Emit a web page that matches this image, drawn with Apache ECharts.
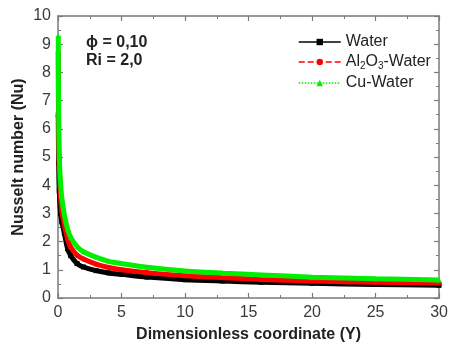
<!DOCTYPE html>
<html><head><meta charset="utf-8">
<script src="https://cdn.jsdelivr.net/npm/echarts@6/dist/echarts.min.js"></script>
<style>html,body{margin:0;padding:0;background:#fff}#c{width:451px;height:348px}</style>
</head><body><div id="c"></div>
<script>
const xs = [0.02, 0.05, 0.1, 0.2, 0.3, 0.5, 0.75, 1.0, 1.5, 2.0, 3.0, 4.0, 5.0, 7.0, 10, 13, 16, 20, 25, 30];
const water = [6.5, 4.8, 3.8, 3.0, 2.7, 2.3, 1.75, 1.5, 1.22, 1.1, 0.97, 0.89, 0.84, 0.74, 0.65, 0.6, 0.56, 0.52, 0.48, 0.45];
const al2o3 = [8.7, 5.8, 4.6, 3.6, 3.1, 2.6, 2.1, 1.8, 1.52, 1.38, 1.2, 1.08, 1.0, 0.9, 0.79, 0.72, 0.66, 0.6, 0.56, 0.53];
const cu = [9.3, 6.6, 5.0, 4.1, 3.55, 2.95, 2.45, 2.15, 1.82, 1.64, 1.45, 1.3, 1.22, 1.09, 0.96, 0.88, 0.82, 0.74, 0.68, 0.64];
const seriesNames = ['Water', 'Al2O3-Water', 'Cu-Water'];
const colors = ['#000000', '#ff0000', '#00ee00'];
const symbols = ['rect', 'circle', 'triangle'];
const lineTypes = ['solid', 'dashed', 'dotted'];
const values = [water, al2o3, cu];

const chart = echarts.init(document.getElementById('c'));
const font = 'Liberation Sans, Arial, sans-serif';
const axCol = '#7a7a7a';
function mkAxis(show, pos, min, max, interval, extra) {
  return Object.assign({
    type: 'value', position: pos, min: min, max: max, interval: interval,
    axisLine: {show: true, onZero: false, lineStyle: {color: axCol, width: 1.5}},
    axisTick: {show: true, inside: true, length: 5, lineStyle: {color: axCol, width: 1.2}},
    minorTick: {show: true, splitNumber: 2, length: 3, lineStyle: {color: axCol}},
    splitLine: {show: false},
    axisLabel: {show: show, color: '#3a3a3a', fontSize: 16, fontFamily: font, margin: 7},
  }, extra || {});
}
chart.setOption({
  animation: false,
  grid: {left: 58, right: 8, top: 16, bottom: 50},
  xAxis: [
    mkAxis(true, 'bottom', 0, 30, 5, {
      name: 'Dimensionless coordinate (Y)', nameLocation: 'middle', nameGap: 29, nameMoveOverlap: false,
      nameTextStyle: {fontSize: 16, fontWeight: 'bold', color: '#222', fontFamily: font}
    }),
    mkAxis(false, 'top', 0, 30, 5)
  ],
  yAxis: [
    mkAxis(true, 'left', 0, 10, 1, {
      name: 'Nusselt number (Nu)', nameLocation: 'middle', nameGap: 31, nameRotate: 90, nameMoveOverlap: false,
      nameTextStyle: {fontSize: 16, fontWeight: 'bold', color: '#222', fontFamily: font}
    }),
    mkAxis(false, 'right', 0, 10, 1)
  ],
  legend: {
    left: 293, top: 29, orient: 'vertical', itemWidth: 42, itemHeight: 8, itemGap: 4,
    textStyle: {fontSize: 16, color: '#222', fontFamily: font,
      rich: {sub: {fontSize: 10, verticalAlign: 'bottom', padding: [8, 0, 0, 0], color: '#222', fontFamily: font}}},
    formatter: function (n) { return n === 'Al2O3-Water' ? 'Al{sub|2}O{sub|3}-Water' : n; },
    data: seriesNames.map((n, i) => ({name: n, lineStyle: {type: lineTypes[i], width: 1.5, color: colors[i]}}))
  },
  graphic: [
    {type: 'text', left: 86, top: 35, style: {text: 'ϕ = 0,10', font: 'bold 16px ' + font, fill: '#222'}},
    {type: 'text', left: 86, top: 53, style: {text: 'Ri = 2,0', font: 'bold 16px ' + font, fill: '#222'}}
  ],
  series: values.map((v, i) => ({
    name: seriesNames[i], type: 'line', smooth: 0.3, symbol: symbols[i], symbolSize: 5,
    z: i + 2,
    itemStyle: {color: colors[i]},
    lineStyle: {color: colors[i], width: 5, type: 'solid'},
    data: xs.map((x, j) => [x, v[j]])
  }))
});
</script></body></html>
